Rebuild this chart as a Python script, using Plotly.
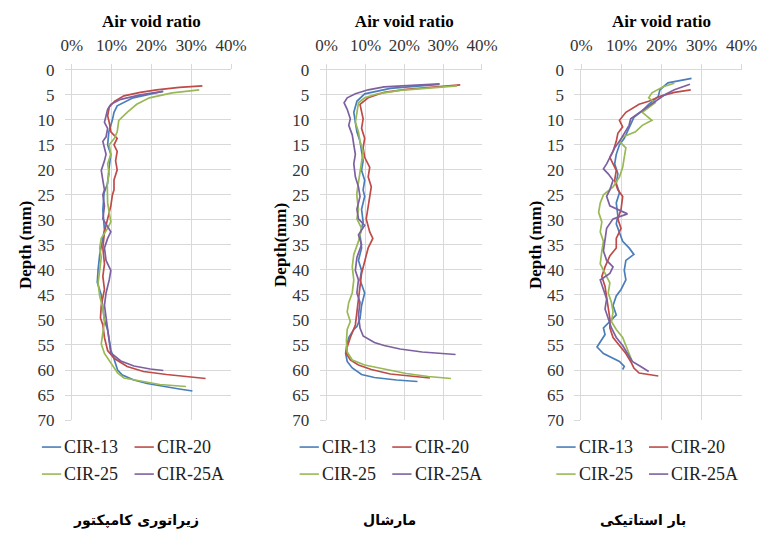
import plotly.graph_objects as go

# ---------------- data (air void %, depth mm) ----------------
series_names = ["CIR-13", "CIR-20", "CIR-25", "CIR-25A"]
panel_titles = ["زیراتوری کامپکتور", "مارشال", "بار استاتیکی"]
y_titles = ["Depth (mm)", "Depth(mm)", "Depth (mm)"]
x_title = "Air void ratio"
x_ticks = [0, 10, 20, 30, 40]
x_tick_labels = ["0%", "10%", "20%", "30%", "40%"]
y_ticks = [0, 5, 10, 15, 20, 25, 30, 35, 40, 45, 50, 55, 60, 65, 70]

# Panel 1 - gyratory compactor
p1_cir13_depth = [4.3, 5.6, 7.2, 8.5, 10, 12.4, 15, 16.9, 20, 22.7, 24.6, 28, 32, 37, 40, 42.5, 45, 48, 50, 52, 54, 56, 58, 60, 61, 62, 62.7, 63.3, 63.8, 64.2]
p1_cir13_void = [22.8, 15.4, 11.4, 10.6, 10.2, 9.3, 9.0, 9.8, 9.3, 9.0, 8.1, 7.8, 8.2, 7.0, 6.6, 6.4, 7.4, 7.8, 8.2, 9.0, 9.4, 9.8, 10.7, 11.5, 12.7, 15.6, 18.9, 23.0, 27.0, 30.3]
p1_cir20_depth = [3.2, 3.5, 4.0, 4.5, 5.2, 6.3, 7.5, 9.2, 10.5, 12.4, 13.7, 15, 16.3, 18.2, 20, 22, 24, 25, 27.2, 29.8, 32.4, 35.6, 38.8, 41.3, 43.9, 47.1, 49.6, 51, 53.5, 56.1, 57.7, 59.3, 60.3, 60.9, 61.4, 61.7]
p1_cir20_void = [32.8, 27.0, 21.3, 17.2, 13.1, 10.7, 9.4, 9.0, 9.4, 9.8, 11.4, 10.6, 11.4, 11.0, 11.4, 10.6, 10.6, 10.2, 9.8, 9.0, 8.2, 7.8, 8.2, 7.8, 8.2, 7.4, 7.2, 7.8, 8.2, 9.0, 10.7, 13.9, 18.0, 23.8, 29.5, 33.6]
p1_cir25_depth = [4.0, 4.6, 5.6, 6.9, 8.5, 10.1, 12.4, 13.7, 15, 16.9, 18.8, 20.8, 22.7, 24.6, 26.6, 28.5, 30.4, 31.7, 33.7, 35.6, 37.5, 40.1, 42.6, 45.2, 47.7, 50.3, 52.8, 54.8, 56.7, 58.6, 60.6, 61.6, 62.2, 62.9, 63.2, 63.3]
p1_cir25_void = [32.0, 25.2, 19.5, 16.3, 13.9, 11.8, 11.4, 10.7, 9.4, 9.8, 9.0, 9.4, 8.9, 9.0, 9.0, 9.4, 9.8, 9.0, 7.4, 7.0, 7.4, 7.0, 6.6, 7.0, 7.8, 8.2, 7.8, 7.4, 8.2, 9.8, 11.5, 13.1, 17.2, 22.1, 27.0, 28.7]
p1_cir25a_depth = [4.3, 5.0, 5.9, 6.9, 7.9, 9.2, 10.5, 11.7, 13.4, 14.3, 15.6, 16.9, 18.2, 20.1, 22.1, 24, 25, 27.2, 29.8, 32.4, 33.7, 35.6, 38.1, 40.1, 42, 44.6, 47.1, 49.6, 52.2, 54.7, 56.6, 58.2, 59.2, 59.8, 60.1]
p1_cir25a_void = [23.0, 17.2, 12.3, 9.8, 9.0, 8.6, 8.2, 9.0, 8.6, 7.8, 8.2, 8.6, 8.2, 7.4, 7.8, 8.2, 7.8, 8.2, 7.8, 9.8, 9.0, 8.2, 8.6, 9.8, 9.4, 8.6, 8.2, 8.6, 9.0, 9.4, 9.8, 12.3, 15.6, 19.7, 23.0]

# Panel 2 - Marshall
p2_cir13_depth = [2.9, 3.7, 4.8, 6.3, 8.5, 10.5, 12.4, 14.3, 16.3, 18.2, 20.1, 22.1, 24, 25.3, 27.9, 30.4, 33, 35.6, 38.1, 40.1, 42, 44.6, 47.1, 49.7, 51.3, 51.9, 53.5, 55.4, 56.7, 58.3, 59.6, 60.9, 61.5, 62.0, 62.3]
p2_cir13_void = [29.0, 16.4, 9.8, 7.8, 7.0, 7.4, 7.8, 8.6, 9.0, 9.4, 9.0, 9.8, 9.4, 9.8, 9.0, 9.4, 8.6, 9.0, 8.2, 9.0, 8.6, 9.8, 9.0, 8.6, 7.8, 7.0, 5.7, 5.1, 4.9, 5.3, 6.6, 9.0, 12.3, 18.0, 23.4]
p2_cir20_depth = [3.0, 3.4, 3.9, 4.5, 5.6, 6.9, 8.5, 9.8, 11.7, 13.7, 15.6, 17.5, 19.5, 21.4, 23.4, 25.3, 27.9, 29.8, 32.4, 33.7, 35.6, 38.1, 40.7, 43.3, 45.8, 48.4, 51, 53.5, 55.4, 56.7, 58, 59, 59.9, 60.8, 61.3, 61.6]
p2_cir20_void = [34.4, 27.9, 20.5, 14.8, 10.7, 8.6, 9.0, 9.4, 9.0, 9.8, 9.4, 9.8, 11.1, 10.7, 11.5, 11.1, 10.7, 10.2, 11.1, 11.9, 10.7, 9.8, 9.0, 8.6, 8.2, 7.8, 7.4, 6.1, 5.3, 5.1, 6.1, 8.2, 11.5, 16.4, 22.1, 26.6]
p2_cir25_depth = [3.2, 3.7, 4.1, 4.8, 5.6, 6.6, 8.5, 10.5, 12.4, 14.3, 16.3, 18.2, 20.1, 22.1, 24.6, 25.3, 27.9, 29.8, 31.7, 34.3, 36.9, 39.4, 42, 44.6, 46.5, 48.4, 50.3, 51.9, 54.2, 56.4, 58, 59, 59.8, 60.7, 61.3, 61.7]
p2_cir25_void = [33.6, 26.2, 18.9, 13.1, 9.8, 8.2, 7.8, 7.4, 8.2, 8.6, 9.4, 9.0, 8.6, 8.2, 7.8, 7.8, 8.2, 7.8, 9.0, 8.2, 7.0, 6.6, 7.0, 6.6, 5.7, 5.3, 6.1, 5.3, 5.1, 5.3, 6.6, 9.8, 14.8, 20.5, 26.2, 32.0]
p2_cir25a_depth = [2.8, 3.1, 3.4, 4.0, 4.8, 5.6, 6.6, 7.9, 9.8, 11.1, 13, 15, 16.9, 18.8, 21.4, 23.4, 25.3, 27.9, 29.8, 31.1, 33, 34.9, 37.5, 40.1, 42, 44.6, 46.5, 49, 51.6, 53.2, 54.5, 55.1, 55.8, 56.4, 56.9]
p2_cir25a_void = [29.1, 20.5, 14.8, 10.7, 7.4, 5.3, 4.5, 5.3, 6.1, 5.7, 6.6, 7.0, 7.4, 7.0, 7.4, 8.2, 8.6, 7.8, 8.2, 9.8, 8.2, 9.0, 7.8, 7.4, 8.2, 7.8, 8.6, 8.2, 8.6, 9.4, 12.3, 14.8, 18.9, 24.6, 33.2]

# Panel 3 - static load
p3_cir13_depth = [1.7, 2.6, 4.0, 5.3, 6.9, 8.2, 9.5, 10.8, 12.4, 13.7, 15, 16.9, 18.8, 20.8, 22.7, 24.6, 26.6, 29.2, 30.8, 32.4, 34.3, 35.6, 36.9, 38.1, 40.1, 42, 43.9, 45.2, 47.1, 49, 50.3, 51.6, 52.9, 54.5, 55.4, 56.7, 57.7, 58.3, 59.3, 59.9]
p3_cir13_void = [27.5, 21.6, 19.6, 19.2, 16.8, 15.2, 13.1, 12.3, 11.5, 10.7, 9.5, 8.7, 8.3, 9.1, 8.7, 9.5, 8.7, 9.1, 8.7, 9.5, 10.3, 11.9, 13.1, 11.1, 10.7, 11.1, 9.9, 8.7, 7.9, 8.7, 7.1, 5.5, 5.9, 4.7, 3.9, 5.5, 7.9, 9.5, 10.7, 10.3]
p3_cir20_depth = [4.0, 4.5, 5.2, 6.3, 6.9, 8.5, 10.1, 11.4, 12.7, 14.3, 16.3, 17.5, 18.8, 20.1, 22.1, 24, 25.3, 27.9, 29.8, 31.7, 33.7, 35.6, 37.2, 39.4, 41.3, 43.3, 45.5, 47.8, 49.7, 51.6, 53.5, 55.1, 56.7, 58.3, 59.6, 60.6, 61.2]
p3_cir20_void = [27.3, 23.2, 20.0, 16.8, 14.4, 11.1, 9.5, 10.3, 9.1, 8.7, 7.9, 7.1, 7.9, 8.7, 8.3, 9.1, 10.3, 9.9, 9.1, 9.9, 8.7, 8.7, 7.1, 5.9, 5.1, 5.9, 6.3, 6.7, 7.1, 7.1, 7.9, 9.5, 11.1, 12.3, 13.1, 14.4, 19.2]
p3_cir25_depth = [2.7, 3.4, 4.6, 5.6, 6.6, 7.5, 8.5, 10.1, 11.1, 12.4, 13.4, 14.3, 15.6, 17.5, 19.5, 21.4, 23.4, 25, 25.9, 26.6, 28.5, 30.4, 32.4, 34.3, 36.2, 38.8, 40.7, 42.6, 44.6, 46.5, 48.4, 50.3, 51.9, 53.5, 55.1, 56.7, 58.3]
p3_cir25_void = [23.2, 20.4, 17.6, 16.8, 18.4, 16.8, 15.2, 17.6, 15.2, 13.5, 10.3, 9.5, 11.1, 10.7, 10.3, 9.5, 7.9, 5.5, 5.1, 4.7, 4.3, 5.1, 4.7, 5.5, 5.1, 4.7, 5.9, 7.1, 6.7, 7.5, 7.9, 7.5, 8.7, 10.3, 11.1, 11.9, 12.7]
p3_cir25a_depth = [2.9, 4.0, 5.0, 5.9, 7.2, 8.5, 9.8, 11.1, 12.7, 14.3, 15.6, 16.9, 18.8, 19.8, 20.8, 22.1, 24, 25.3, 27.2, 28.8, 29.8, 31.7, 33.7, 36.2, 38.1, 39.4, 40.7, 42, 43.9, 45.8, 47.8, 49.7, 51.6, 53.5, 55.1, 56.7, 58.3, 59.3, 60.3]
p3_cir25a_void = [27.1, 23.2, 20.8, 19.2, 16.8, 14.4, 12.3, 11.9, 10.7, 9.5, 8.3, 7.5, 6.3, 5.5, 6.7, 7.9, 7.1, 6.3, 7.1, 11.5, 7.9, 6.3, 5.9, 5.5, 6.3, 7.9, 7.1, 4.7, 5.5, 6.3, 5.9, 6.7, 7.5, 8.7, 10.3, 11.5, 12.7, 14.8, 16.8]

panels = [
    [(p1_cir13_void, p1_cir13_depth), (p1_cir20_void, p1_cir20_depth), (p1_cir25_void, p1_cir25_depth), (p1_cir25a_void, p1_cir25a_depth)],
    [(p2_cir13_void, p2_cir13_depth), (p2_cir20_void, p2_cir20_depth), (p2_cir25_void, p2_cir25_depth), (p2_cir25a_void, p2_cir25a_depth)],
    [(p3_cir13_void, p3_cir13_depth), (p3_cir20_void, p3_cir20_depth), (p3_cir25_void, p3_cir25_depth), (p3_cir25a_void, p3_cir25a_depth)],
]

# ---------------- styling ----------------
W, H = 775, 541
colors = ["#4A7EBB", "#BE4B48", "#98B954", "#7D60A0"]
x_domains_px = [(63, 228), (327, 488), (591, 757)]
y_domain_px = (63, 426)
legend_left_px = [32, 299, 565]   # left x of legend column 1 per panel
legend_col2_off = 96
legend_rows_px = [454, 482]
title_centers_px = [130, 392, 655]
serif = "Liberation Serif"
grid = "#D9D9D9"

fig = go.Figure()
layout = dict(
    width=W, height=H, margin=dict(l=0, r=0, t=0, b=0),
    paper_bgcolor="white", plot_bgcolor="white", showlegend=False,
    font=dict(family=serif, size=17, color="#333333"),
)
shapes, annotations = [], []

for i, series in enumerate(panels):
    sfx = "" if i == 0 else str(i + 1)
    for j, (xv, yv) in enumerate(series):
        fig.add_trace(go.Scatter(
            x=xv, y=yv, mode="lines", name=series_names[j],
            line=dict(color=colors[j], width=1.7),
            xaxis="x" + sfx, yaxis="y" + sfx,
        ))
    x0, x1 = x_domains_px[i]
    layout["xaxis" + sfx] = dict(
        domain=[x0 / W, x1 / W], range=[0, 40], side="top",
        anchor="y" + sfx, tickvals=x_ticks, ticktext=x_tick_labels,
        showgrid=True, gridcolor=grid, gridwidth=1, zeroline=False,
        showline=True, linecolor=grid, ticks="outside", ticklen=5, tickcolor=grid,
        ticklabelstandoff=6,
        tickfont=dict(family=serif, size=17, color="#333333"),
        title=dict(text="<b>" + x_title + "</b>", standoff=4,
                   font=dict(family=serif, size=17, color="black")),
    )
    layout["yaxis" + sfx] = dict(
        domain=[1 - y_domain_px[1] / H, 1 - y_domain_px[0] / H], range=[70, 0],
        anchor="x" + sfx, tickvals=y_ticks,
        showgrid=True, gridcolor=grid, gridwidth=1, zeroline=False,
        showline=True, linecolor=grid, ticks="outside", ticklen=6, tickcolor=grid,
        ticklabelstandoff=7,
        tickfont=dict(family=serif, size=17, color="#333333"),
        title=dict(text="<b>" + y_titles[i] + "</b>", standoff=1,
                   font=dict(family=serif, size=17, color="black")),
    )
    # manual legend (2 x 2)
    for j, name in enumerate(series_names):
        col, row = j % 2, j // 2
        lx = legend_left_px[i] + col * legend_col2_off
        ly = legend_rows_px[row]
        shapes.append(dict(type="line", xref="paper", yref="paper",
                           x0=lx / W, x1=(lx + 20) / W, y0=1 - ly / H, y1=1 - ly / H,
                           line=dict(color=colors[j], width=1.6)))
        annotations.append(dict(text=name, xref="paper", yref="paper",
                                x=(lx + 21) / W, y=1 - ly / H, xanchor="left", yanchor="middle",
                                showarrow=False, font=dict(family=serif, size=18, color="#222222")))
    annotations.append(dict(text="<b>" + panel_titles[i] + "</b>", xref="paper", yref="paper",
                            x=title_centers_px[i] / W, y=1 - 530 / H, xanchor="center", yanchor="middle",
                            showarrow=False, font=dict(family="DejaVu Sans", size=14, color="black")))

layout["shapes"] = shapes
layout["annotations"] = annotations
fig.update_layout(**layout)
fig.write_html("out.html")
